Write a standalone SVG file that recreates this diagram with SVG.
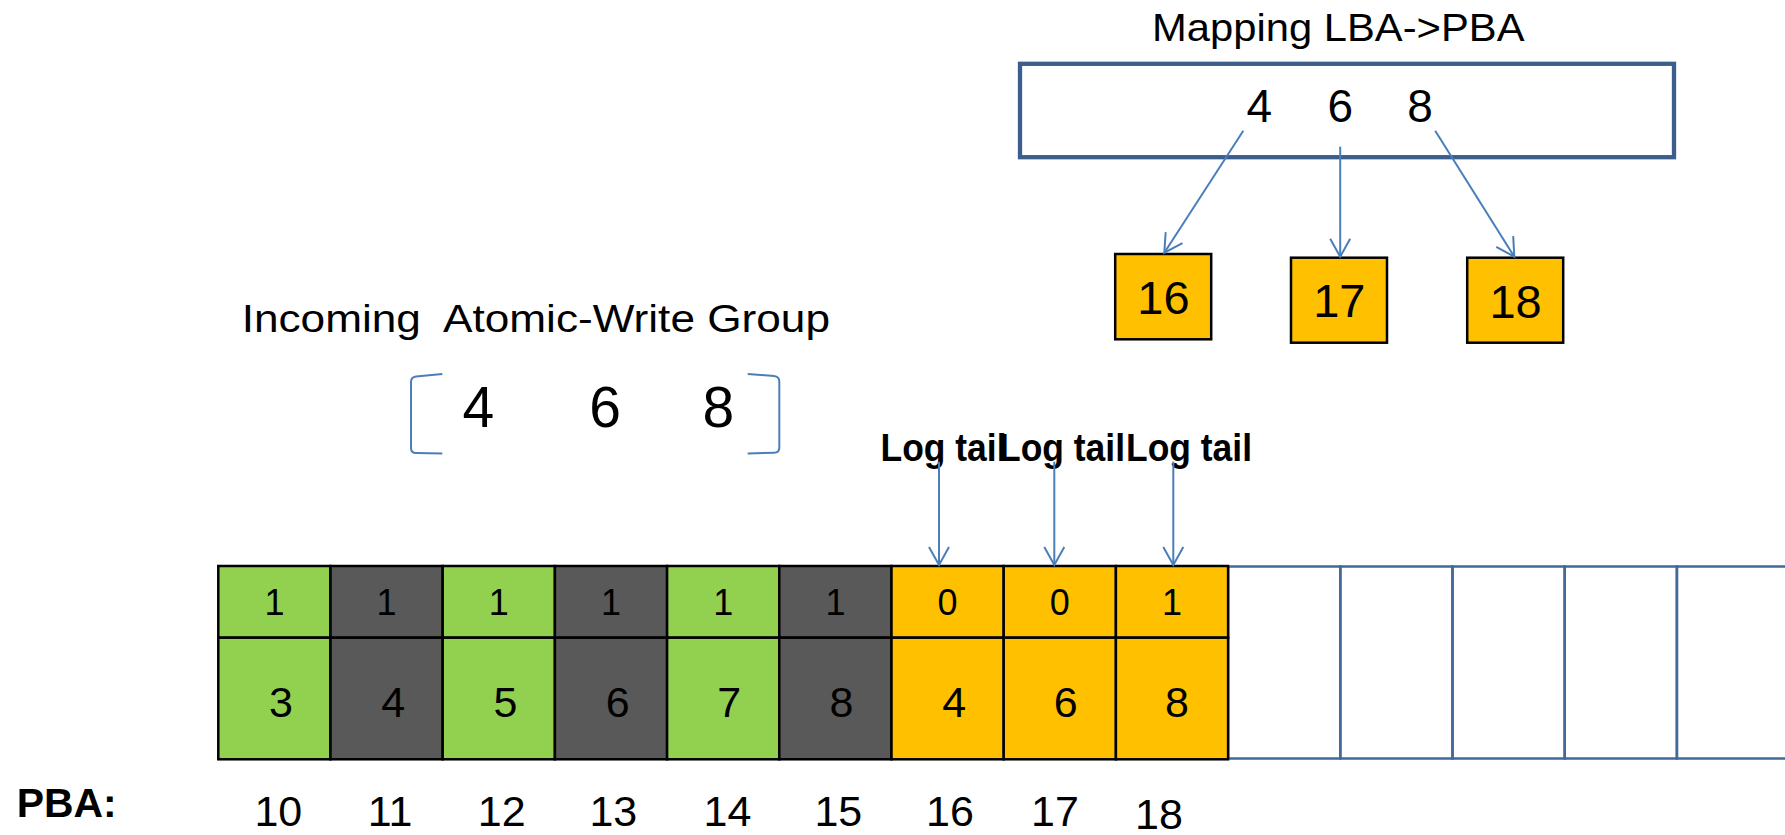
<svg xmlns="http://www.w3.org/2000/svg" width="1785" height="835" viewBox="0 0 1785 835">
<style>
text{font-family:"Liberation Sans",Arial,sans-serif;fill:#000}
.b{font-weight:bold}
.g{fill:#92D050;stroke:#000;stroke-width:2.5}
.d{fill:#595959;stroke:#000;stroke-width:2.5}
.o{fill:#FFC000;stroke:#000;stroke-width:2.5}
.e{fill:none;stroke:#41699B;stroke-width:2.5}
.c{fill:none;stroke:#4A7EBB;stroke-width:2}
.t{font-size:36px;text-anchor:middle}
.m{font-size:43px;text-anchor:middle}
</style>
<defs>
<marker id="ah" markerUnits="userSpaceOnUse" viewBox="-22 -13 26 26" refX="0" refY="0" markerWidth="26" markerHeight="26" orient="auto">
<path d="M-18,-10 L0,0 L-18,10" fill="none" stroke="#4A7EBB" stroke-width="2"/>
</marker>
</defs>
<rect width="1785" height="835" fill="#fff"/>

<g id="mapping">
<text x="1152" y="40.7" font-size="38.5" textLength="372.5" lengthAdjust="spacingAndGlyphs">Mapping LBA-&gt;PBA</text>
<rect x="1020" y="63.8" width="654" height="93.4" fill="#fff" stroke="#3B5E8C" stroke-width="4.3"/>
<text x="1259.4" y="121.7" font-size="46" text-anchor="middle">4</text>
<text x="1340.2" y="121.7" font-size="46" text-anchor="middle">6</text>
<text x="1420" y="121.7" font-size="46" text-anchor="middle">8</text>
</g>

<g id="pba16"><rect class="o" x="1115.2" y="254" width="96" height="85.3"/><text x="1163.4" y="314.3" font-size="47" text-anchor="middle">16</text></g>
<g id="pba17"><rect class="o" x="1291" y="257.7" width="96" height="85"/><text x="1339.3" y="317.3" font-size="47" text-anchor="middle">17</text></g>
<g id="pba18"><rect class="o" x="1467.2" y="257.7" width="96" height="85"/><text x="1515.6" y="317.5" font-size="47" text-anchor="middle">18</text></g>

<g id="incoming">
<text x="241.7" y="331.7" font-size="39" xml:space="preserve" textLength="588.3" lengthAdjust="spacingAndGlyphs">Incoming  Atomic-Write Group</text>
<path class="c" d="M442.3,374 L416,376.5 Q411,377 411,382 L411,448 Q411,453 416,453 L442.3,453.5"/>
<path class="c" d="M747.7,374 L774,376 Q779.3,376.5 779.3,381.5 L779.3,448 Q779.3,452.5 774,452.7 L747.7,453.5"/>
<text x="478.3" y="427.3" font-size="57" text-anchor="middle">4</text>
<text x="605" y="427.3" font-size="57" text-anchor="middle">6</text>
<text x="718.3" y="427" font-size="57" text-anchor="middle">8</text>
</g>

<g id="logtails">
<text class="b" x="880.5" y="460.7" font-size="39" textLength="126" lengthAdjust="spacingAndGlyphs">Log tail</text>
<text class="b" x="999" y="460.7" font-size="39" textLength="126" lengthAdjust="spacingAndGlyphs">Log tail</text>
<text class="b" x="1126" y="460.7" font-size="39" textLength="126" lengthAdjust="spacingAndGlyphs">Log tail</text>
</g>

<g id="log-empty">
<rect class="e" x="1228.1" y="566.5" width="112.2" height="192"/>
<rect class="e" x="1340.3" y="566.5" width="112.2" height="192"/>
<rect class="e" x="1452.5" y="566.5" width="112.2" height="192"/>
<rect class="e" x="1564.7" y="566.5" width="112.2" height="192"/>
<rect class="e" x="1676.9" y="566.5" width="112.2" height="192"/>
</g>

<g id="cell10"><rect class="g" x="218.3" y="566" width="112.2" height="71.7"/><rect class="g" x="218.3" y="637.7" width="112.2" height="121.6"/><text class="t" x="274.4" y="615">1</text><text class="m" x="281" y="716.7">3</text></g>
<g id="cell11"><rect class="d" x="330.5" y="566" width="112.2" height="71.7"/><rect class="d" x="330.5" y="637.7" width="112.2" height="121.6"/><text class="t" x="386.6" y="615">1</text><text class="m" x="393.2" y="716.7">4</text></g>
<g id="cell12"><rect class="g" x="442.7" y="566" width="112.2" height="71.7"/><rect class="g" x="442.7" y="637.7" width="112.2" height="121.6"/><text class="t" x="498.8" y="615">1</text><text class="m" x="505.4" y="716.7">5</text></g>
<g id="cell13"><rect class="d" x="554.9" y="566" width="112.2" height="71.7"/><rect class="d" x="554.9" y="637.7" width="112.2" height="121.6"/><text class="t" x="611" y="615">1</text><text class="m" x="617.6" y="716.7">6</text></g>
<g id="cell14"><rect class="g" x="667.1" y="566" width="112.2" height="71.7"/><rect class="g" x="667.1" y="637.7" width="112.2" height="121.6"/><text class="t" x="723.2" y="615">1</text><text class="m" x="729.2" y="716.7">7</text></g>
<g id="cell15"><rect class="d" x="779.3" y="566" width="112.2" height="71.7"/><rect class="d" x="779.3" y="637.7" width="112.2" height="121.6"/><text class="t" x="835.4" y="615">1</text><text class="m" x="841.4" y="716.7">8</text></g>
<g id="cell16"><rect class="o" x="891.5" y="566" width="112.2" height="71.7"/><rect class="o" x="891.5" y="637.7" width="112.2" height="121.6"/><text class="t" x="947.6" y="615">0</text><text class="m" x="954.2" y="716.7">4</text></g>
<g id="cell17"><rect class="o" x="1003.7" y="566" width="112.2" height="71.7"/><rect class="o" x="1003.7" y="637.7" width="112.2" height="121.6"/><text class="t" x="1059.8" y="615">0</text><text class="m" x="1065.8" y="716.7">6</text></g>
<g id="cell18"><rect class="o" x="1115.9" y="566" width="112.2" height="71.7"/><rect class="o" x="1115.9" y="637.7" width="112.2" height="121.6"/><text class="t" x="1172" y="615">1</text><text class="m" x="1177" y="716.7">8</text></g>

<g id="pba-labels">
<text class="b" x="16.7" y="816.7" font-size="41" textLength="100" lengthAdjust="spacingAndGlyphs">PBA:</text>
<text class="m" x="278.3" y="826">10</text>
<text class="m" x="390" y="826">11</text>
<text class="m" x="501.7" y="826">12</text>
<text class="m" x="613.3" y="826">13</text>
<text class="m" x="727.5" y="826">14</text>
<text class="m" x="838.3" y="826">15</text>
<text class="m" x="950" y="826">16</text>
<text class="m" x="1055" y="826">17</text>
<text class="m" x="1159" y="829">18</text>
</g>

<g id="connectors">
<line class="c" x1="1243.3" y1="130.7" x2="1164.3" y2="252.7" marker-end="url(#ah)"/>
<line class="c" x1="1340.2" y1="146.7" x2="1340.2" y2="256.7" marker-end="url(#ah)"/>
<line class="c" x1="1435.2" y1="130.7" x2="1514.3" y2="256.7" marker-end="url(#ah)"/>
<line class="c" x1="939" y1="461.7" x2="939" y2="565" marker-end="url(#ah)"/>
<line class="c" x1="1054.3" y1="461.7" x2="1054.3" y2="565" marker-end="url(#ah)"/>
<line class="c" x1="1173.3" y1="461.7" x2="1173.3" y2="565" marker-end="url(#ah)"/>
</g>
</svg>
